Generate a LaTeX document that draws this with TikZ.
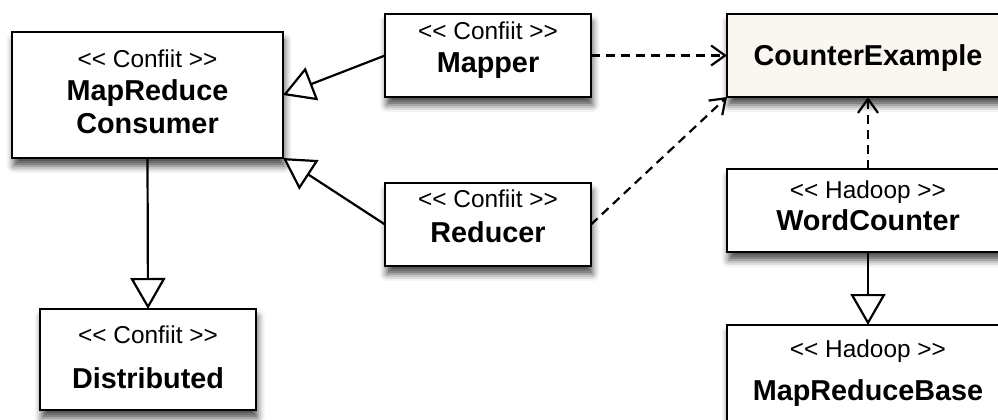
\documentclass[tikz,border=0pt]{standalone}
\usepackage{fontspec}
\newfontfamily\umlfont{Liberation Sans}
\usetikzlibrary{arrows.meta,shadows.blur}
\definecolor{cream}{RGB}{250,247,240}
\tikzset{
  cls/.style={draw, line width=1.1pt, fill=white, inner sep=0pt, outer sep=0pt,
    blur shadow={shadow xshift=0.8pt, shadow yshift=-4pt, shadow blur radius=3.5pt, shadow opacity=70}},
  stereo/.style={font=\umlfont\fontsize{12.2}{14}\selectfont, anchor=base, inner sep=0pt},
  title/.style={font=\umlfont\bfseries\fontsize{14.4}{17}\selectfont, anchor=base, inner sep=0pt},
  inherit/.style={line width=1.1pt, -{Triangle[length=15.5pt, width=17.5pt, fill=white, line width=1.1pt]}},
  depend/.style={line width=1.1pt, dash pattern=on 4.5pt off 3pt, -{Straight Barb[length=7pt, width=10pt, line width=1.1pt]}}
}
\begin{document}
\begin{tikzpicture}[x=0.5pt, y=-0.5pt]
    \useasboundingbox (0,0) rectangle (998,419);

    % Classes
    \node[cls, minimum width=135.5pt, minimum height=63pt] (consumer) at (147.5,95) {};
    \node[cls, minimum width=103pt, minimum height=41.5pt] (mapper) at (488,55.5) {};
    \node[cls, minimum width=103pt, minimum height=41.5pt] (reducer) at (488,224.5) {};
    \node[cls, minimum width=108pt, minimum height=50.5pt] (distributed) at (148,359.5) {};
    \node[cls, fill=cream, minimum width=141pt, minimum height=41.5pt] (counter) at (868,55.5) {};
    \node[cls, minimum width=141pt, minimum height=41.5pt] (wordcounter) at (868,210.5) {};
    \node[cls, minimum width=141pt, minimum height=50.5pt] (base) at (868,375.5) {};

    % Labels
    \node[stereo] (consumer-st) at (147.5,67) {<{}< Confiit >{}>};
    \node[title] (consumer-t1) at (147.5,100) {MapReduce};
    \node[title] (consumer-t2) at (147.5,133) {Consumer};
    \node[stereo] (mapper-st) at (488,39) {<{}< Confiit >{}>};
    \node[title] (mapper-t) at (488,72) {Mapper};
    \node[stereo] (reducer-st) at (488,207) {<{}< Confiit >{}>};
    \node[title] (reducer-t) at (488,242) {Reducer};
    \node[stereo] (distributed-st) at (148,343) {<{}< Confiit >{}>};
    \node[title] (distributed-t) at (148,388) {Distributed};
    \node[title] (counter-t) at (868,65) {CounterExample};
    \node[stereo] (wordcounter-st) at (868,198) {<{}< Hadoop >{}>};
    \node[title] (wordcounter-t) at (868,230) {WordCounter};
    \node[stereo] (base-st) at (868,357) {<{}< Hadoop >{}>};
    \node[title] (base-t) at (868,400) {MapReduceBase};

    % Generalizations
    \draw[inherit] (mapper.west) -- (consumer.east);
    \draw[inherit] (reducer.west) -- (consumer.south east);
    \draw[inherit] (consumer.south) -- (distributed.north);
    \draw[inherit] (wordcounter.south) -- (base.north);

    % Dependencies
    \draw[depend] (mapper.east) -- (counter.west);
    \draw[depend] (reducer.east) -- (counter.south west);
    \draw[depend] (wordcounter.north) -- (counter.south);
\end{tikzpicture}
\end{document}
